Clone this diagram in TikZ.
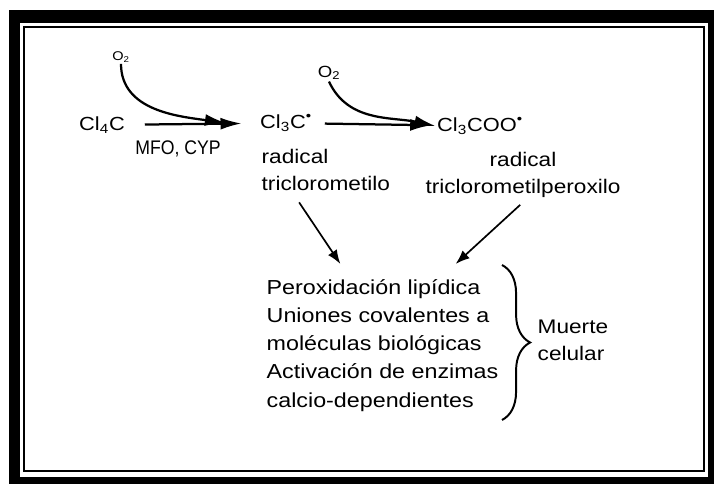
\documentclass[tikz,border=0pt]{standalone}
\usepackage{fontspec}
\setmainfont{Liberation Sans}[FakeStretch=1.15]
\usepackage{tikz}
\usetikzlibrary{arrows.meta}
\usetikzlibrary{decorations.pathreplacing}
\usetikzlibrary{positioning}
\tikzset{
    especie/.style={inner sep=1pt, font=\fontsize{13.5}{16}\selectfont},
    etiqueta/.style={inner sep=1pt, font=\fontsize{14}{19}\selectfont},
    paso/.style={line width=1.6pt, -{Latex[length=15pt,width=8.5pt]}},
    flecha/.style={line width=1.2pt, -{Latex[length=10pt,width=7.5pt]}}}

\begin{document}
\begin{tikzpicture}[x=0.025cm, y=-0.025cm]

        \useasboundingbox (0,0) rectangle (714,484);
        % marco
        \fill[black] (9,10) rectangle (714,484);
        \fill[white] (20,23) rectangle (708,477);
        \draw[line width=1.2pt] (24,27) rectangle (704,471);

            \node[inner sep=1pt, font=\fontsize{9}{10}\selectfont] (o2a) at (121,57) {O\textsubscript{2}};
            \node[especie] (ccl4) at (102,125) {Cl\textsubscript{4}C};
            \node[especie] (ccl3) at (286,123) {Cl\textsubscript{3}C\textsuperscript{\textbullet}};
            \node[inner sep=1pt, font=\fontsize{11.5}{12}\selectfont] (o2b) at (329,73) {O\textsubscript{2}};
            \node[especie] (ccl3oo) at (480,126) {Cl\textsubscript{3}COO\textsuperscript{\textbullet}};

            \node[etiqueta] (mfo) at (178,149) {\scalebox{0.78}[1]{MFO, CYP}};
            \node[etiqueta, anchor=north west, align=left] (rad1) at (260,148) {radical\\triclorometilo};
            \node[etiqueta, align=center] (rad2) at (523,175) {radical\\triclorometilperoxilo};

            \node[inner sep=1pt, anchor=north west, align=left, font=\fontsize{14.4}{20}\selectfont] (efectos) at (265,278) {Peroxidación lipídica\\Uniones covalentes a\\moléculas biológicas\\Activación de enzimas\\calcio-dependientes};
            \node[etiqueta, anchor=west, align=left] (muerte) at (536,340) {Muerte\\celular};

            \coordinate (j1) at (226,123);
            \coordinate (bt) at (502,265);
            \coordinate (bb) at (502,420);

            \draw[paso, shorten <=13pt, shorten >=12pt] (ccl4) -- (ccl3);
            \draw[paso] (o2a.south) to[out=-90, in=172] (j1);
            \draw[paso, shorten <=8pt, shorten >=3pt] (ccl3) -- (ccl3oo);
            \draw[paso] (o2b.south) to[out=-65, in=168] (ccl3oo.west);

            \draw[flecha] ([xshift=-19pt, yshift=-7pt]rad1.south) -- ([xshift=-30pt, yshift=10pt]efectos.north);
            \draw[flecha] ([xshift=-2pt, yshift=-4pt]rad2.south) -- ([xshift=52pt, yshift=10pt]efectos.north);

            \draw[decorate, decoration={brace, amplitude=20pt}, line width=1.4pt] (bt) -- (bb);

        \end{tikzpicture}
\end{document}
